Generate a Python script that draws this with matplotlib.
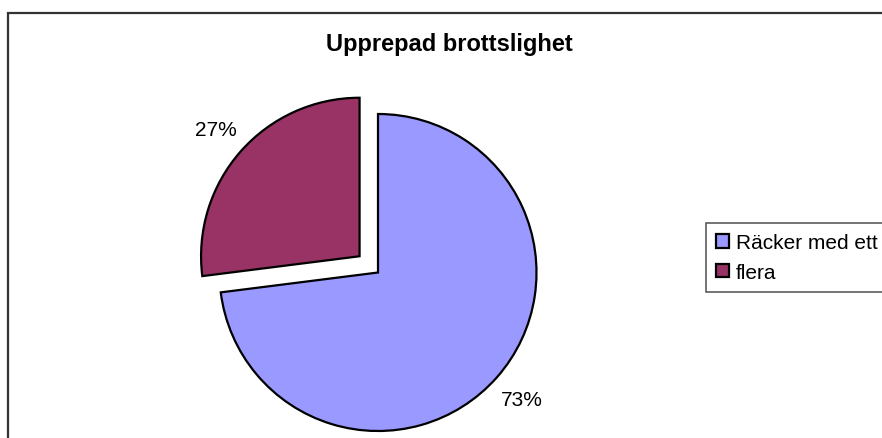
import matplotlib
matplotlib.use("Agg")
import matplotlib.pyplot as plt
from matplotlib.patches import Rectangle, Patch

plt.rcParams['font.family'] = ['Liberation Sans', 'DejaVu Sans']

title = "Upprepad brottslighet"
categories = ["Räcker med ett", "flera"]
values = [73, 27]
labels = ["73%", "27%"]
colors = ["#9999FF", "#993366"]
explode = [0, 0.155]

W, H = 882, 439
fig = plt.figure(figsize=(W / 100, H / 100), dpi=100)
ax = fig.add_axes([0, 0, 1, 1])
cx, cy, r = 378, 273.5, 158.5

wedges, texts = ax.pie(values, labels=labels, colors=colors, explode=explode,
                       startangle=90, counterclock=False, radius=1,
                       labeldistance=1.21, frame=True,
                       wedgeprops=dict(edgecolor='black', linewidth=1.6),
                       textprops=dict(fontsize=15, color='black'))
for t in texts:
    t.set_ha('center')
    t.set_va('center')
ax.set_xlim(-cx / r, (W - cx) / r)
ax.set_ylim((cy - H) / r, cy / r)
ax.axis('off')

# chart border
fig.patches.append(Rectangle((8 / W, -0.1), 1.2, (H - 14) / H + 0.1,
                             transform=fig.transFigure, fill=False,
                             edgecolor='#333333', linewidth=1.6))

fig.text(449.5 / W, 1 - 44 / H, title, ha='center', va='center',
         fontsize=17, fontweight='bold')

handles = [Patch(facecolor=c, edgecolor='black', linewidth=1.6) for c in colors]
leg = fig.legend(handles, categories, loc='upper left',
                 bbox_to_anchor=(706 / W, 1 - 224 / H), borderaxespad=0,
                 fontsize=15, handlelength=0.6, handleheight=0.6,
                 handletextpad=0.35, labelspacing=0.5, borderpad=0.5,
                 fancybox=False, frameon=True)
leg.get_frame().set_edgecolor('#333333')
leg.get_frame().set_linewidth(1.2)

fig.savefig("out.png", dpi=100)
